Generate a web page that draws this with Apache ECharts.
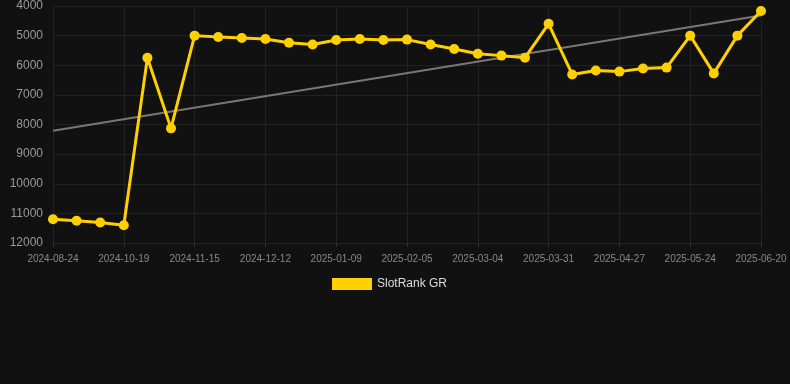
<!DOCTYPE html>
<html>
<head>
<meta charset="utf-8">
<script src="https://cdn.jsdelivr.net/npm/echarts@6/dist/echarts.min.js"></script>
<style>
  html, body { margin: 0; padding: 0; background: #111111; }
  #chart { width: 790px; height: 384px; }
</style>
</head>
<body>
<div id="chart"></div>
<script>
// dates shown on the x axis (every 3rd one gets a label)
var dates = [
  '2024-08-24', '2024-09-12', '2024-10-01', '2024-10-19', '2024-10-28', '2024-11-06',
  '2024-11-15', '2024-11-24', '2024-12-03', '2024-12-12', '2024-12-21', '2024-12-31',
  '2025-01-09', '2025-01-18', '2025-01-27', '2025-02-05', '2025-02-14', '2025-02-23',
  '2025-03-04', '2025-03-13', '2025-03-22', '2025-03-31', '2025-04-09', '2025-04-18',
  '2025-04-27', '2025-05-06', '2025-05-15', '2025-05-24', '2025-06-02', '2025-06-11',
  '2025-06-20'
];

// rank values (lower is better, axis is inverted)
var rankGR = [
  11200, 11250, 11310, 11400, 5750, 8130,
  5000, 5045, 5080, 5115, 5240, 5300,
  5150, 5115, 5150, 5135, 5300, 5450,
  5610, 5675, 5745, 4600, 6310, 6180,
  6215, 6110, 6080, 5000, 6275, 5000,
  4170
];

// trend line, start and end values
var trendEnds = [8210, 4320];

var yTicks = { min: 4000, max: 12000, step: 1000 };

var trendData = [[0, trendEnds[0]], [dates.length - 1, trendEnds[1]]];

var myChart = echarts.init(document.getElementById('chart'));

var option = {
  backgroundColor: '#111111',
  animation: false,
  grid: {
    left: 53,
    right: 29,
    top: 6,
    bottom: 141,
    containLabel: false
  },
  legend: {
    top: 273,
    left: 327,
    itemWidth: 40,
    itemHeight: 12,
    icon: 'rect',
    textStyle: { color: '#dddddd', fontSize: 12, fontFamily: 'Arial, Liberation Sans, sans-serif' },
    data: ['SlotRank GR']
  },
  xAxis: {
    type: 'category',
    data: dates,
    boundaryGap: false,
    axisLine: { show: false },
    axisTick: { show: true, interval: 2, length: 4, lineStyle: { color: '#333333' } },
    axisLabel: {
      interval: 2,
      color: '#888888',
      fontSize: 10,
      margin: 11,
      fontFamily: 'Arial, Liberation Sans, sans-serif'
    },
    splitLine: { show: true, interval: 2, lineStyle: { color: '#222222' } }
  },
  yAxis: {
    type: 'value',
    inverse: true,
    min: yTicks.min,
    max: yTicks.max,
    interval: yTicks.step,
    axisLine: { show: false },
    axisTick: { show: false },
    axisLabel: {
      color: '#999999',
      fontSize: 12,
      margin: 10,
      fontFamily: 'Arial, Liberation Sans, sans-serif',
      formatter: function (v) { return String(v); }
    },
    splitLine: { lineStyle: { color: '#222222' } }
  },
  series: [
    {
      name: 'trend',
      type: 'line',
      data: trendData,
      symbol: 'none',
      silent: true,
      lineStyle: { color: '#777777', width: 2 },
      z: 1
    },
    {
      name: 'SlotRank GR',
      type: 'line',
      data: rankGR,
      symbol: 'circle',
      symbolSize: 10,
      color: '#FFD000',
      lineStyle: { color: '#FFD000', width: 3 },
      itemStyle: { color: '#FFD000' },
      z: 2
    }
  ]
};

myChart.setOption(option);
</script>
</body>
</html>
